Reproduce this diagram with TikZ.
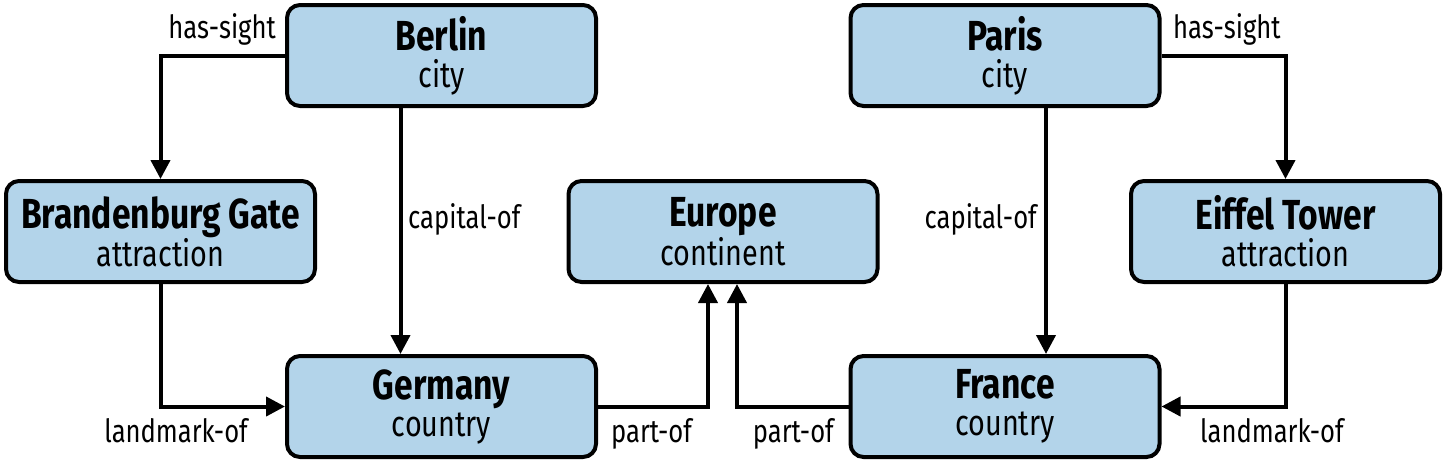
\documentclass[tikz,border=0pt]{standalone}
\usepackage{fontspec}
\setmainfont{Fira Sans}[FakeStretch=0.8]
\usetikzlibrary{arrows.meta}
\definecolor{boxblue}{HTML}{B3D4EA}
\tikzset{
  entity/.style={draw=black, fill=boxblue, line width=4pt, rounded corners=13pt,
    minimum width=309pt, minimum height=101pt, align=center, inner sep=0pt,
    font=\fontsize{36}{37}\selectfont},
  rel/.style={line width=4pt, -{Triangle[length=19pt,width=19pt]}},
  lbl/.style={inner sep=0pt, font=\fontsize{32}{32}\selectfont}
}
\newcommand{\ent}[2]{{\fontsize{42}{37}\selectfont\bfseries #1}\\#2}
\begin{document}
\begin{tikzpicture}[x=1pt,y=-1pt]
\useasboundingbox (0,0) rectangle (1446,464);
\node[entity] (berlin) at (441.5,55.5) {\ent{Berlin}{city}};
\node[entity] (paris) at (1005,55.5) {\ent{Paris}{city}};
\node[entity] (brand) at (160.5,231.5) {\ent{Brandenburg Gate}{attraction}};
\node[entity] (europe) at (723,231.5) {\ent{Europe}{continent}};
\node[entity] (eiffel) at (1285.5,231.5) {\ent{Eiffel Tower}{attraction}};
\node[entity] (germany) at (441.5,406.5) {\ent{Germany}{country}};
\node[entity] (france) at (1005,406.5) {\ent{France}{country}};

\draw[rel] (berlin.west) -| (brand.north);
\draw[rel] ([xshift=-41pt]berlin.south) -- ([xshift=-41pt]germany.north);
\draw[rel] (brand.south) |- (germany.west);
\draw[rel] (germany.east) -| ([xshift=-15pt]europe.south);
\draw[rel] (france.west) -| ([xshift=14pt]europe.south);
\draw[rel] ([xshift=41pt]paris.south) -- ([xshift=41pt]france.north);
\draw[rel] (paris.east) -| (eiffel.north);
\draw[rel] (eiffel.south) |- (france.east);

\node[lbl, anchor=base east] (l1) at (276,38) {has-sight};
\node[lbl, anchor=base west] (l2) at (408,228) {capital-of};
\node[lbl, anchor=base east] (l3) at (248,442) {landmark-of};
\node[lbl, anchor=base west] (l4) at (611,442) {part-of};
\node[lbl, anchor=base east] (l5) at (834,442) {part-of};
\node[lbl, anchor=base east] (l6) at (1037,228) {capital-of};
\node[lbl, anchor=base west] (l7) at (1173,38) {has-sight};
\node[lbl, anchor=base west] (l8) at (1200,442) {landmark-of};
\end{tikzpicture}
\end{document}
